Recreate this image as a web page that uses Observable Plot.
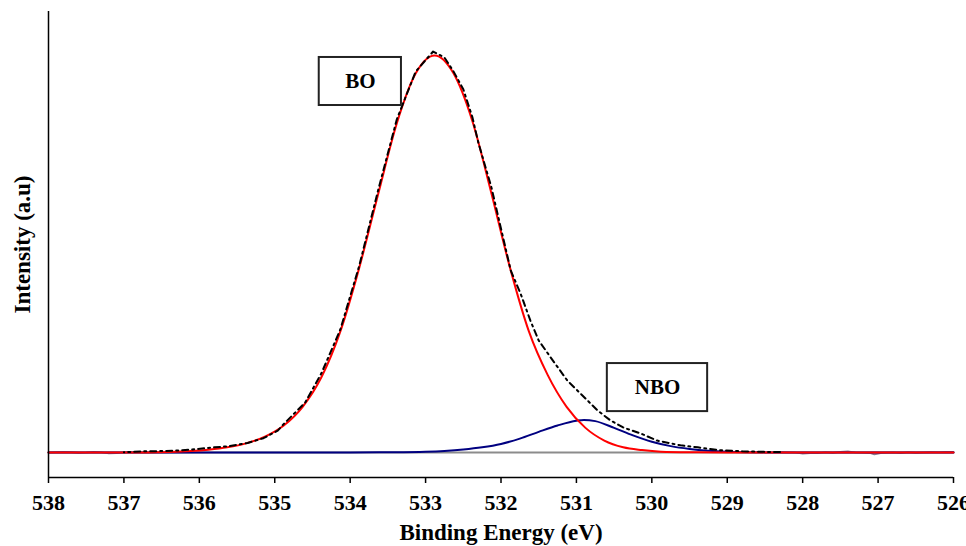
<!DOCTYPE html>
<html><head><meta charset="utf-8">
<script src="https://cdn.jsdelivr.net/npm/d3@7"></script>
<script src="https://cdn.jsdelivr.net/npm/@observablehq/plot@0.6"></script>
<style>body{margin:0;background:#fff}</style>
</head><body><div id="chart"></div>
<script>
// x tick labels (binding energy, eV)
const xTicks = [538,537,536,535,534,533,532,531,530,529,528,527,526];
const xLabel = "Binding Energy (eV)";
const yLabel = "Intensity (a.u)";

// measured spectrum (dash-dot), [eV, intensity]
const measured = [
 [537.0,0.05],[536.75,0.3],[536.5,0.35],[536.3,0.5],[536.1,0.75],[535.8,1.3],[535.6,1.6],
 [535.36,2.4],[535.15,3.6],[534.96,5.5],[534.88,7.2],[534.6,12.5],[534.38,20],[534.13,31],
 [533.88,47],[533.63,66],[533.38,84],[533.13,96],[532.9,101],[532.75,99.5],[532.63,96],
 [532.5,91.5],[532.38,84.5],[532.3,78],[532.13,67],[531.87,45.8],[531.74,40.0],[531.61,33.2],
 [531.5,28.2],[531.34,23.9],[531.12,18.1],[530.95,14.9],[530.81,12.3],[530.72,10.6],
 [530.55,8.1],[530.38,6.3],[530.15,4.8],[529.93,3.0],[529.62,1.8],[529.39,1.3],[529.1,0.6],
 [528.8,0.3],[528.5,0.15],[528.3,0.1]
];
// noisy raw ends of the spectrum
const noiseHigh = [
 [538.0,0.0],[537.9,0.1],[537.8,0.2],[537.7,0.1],[537.6,-0.1],[537.5,0.0],[537.4,0.15],
 [537.3,0.05],[537.2,-0.25],[537.1,-0.2],[537.0,0.05],[536.9,0.1]
];
const noiseLow = [
 [528.3,0.1],[528.1,0.0],[528.0,-0.3],[527.9,-0.15],[527.8,-0.2],[527.7,0.05],[527.6,-0.1],
 [527.5,0.2],[527.4,0.3],[527.3,0.0],[527.2,-0.05],[527.1,-0.2],[527.05,-0.5],[526.95,-0.1],
 [526.8,0.0],[526.7,-0.15],[526.6,0.05],[526.5,-0.1],[526.4,0.0],[526.3,0.1],[526.2,0.05],
 [526.1,0.15],[526.0,0.2]
];
// fitted BO component (red)
const boFit = [
 [538,0],[537,0],[536.38,0.15],[535.88,0.7],[535.63,1.3],[535.38,2.3],[535.13,4.0],
 [534.88,6.8],[534.63,11.5],[534.38,19],[534.13,30.5],[533.88,46.5],[533.63,65],[533.38,83],
 [533.13,95.5],[532.88,100],[532.63,95.5],[532.38,83.5],[532.13,65.5],[531.88,46.5],
 [531.63,30.5],[531.38,19.5],[531.13,11.5],[530.88,6.2],[530.63,3.0],[530.38,1.3],
 [530.13,0.6],[529.88,0.2],[529.5,0.05],[529,0],[526,0]
];
// fitted NBO component (navy)
const nboFit = [
 [538,0],[534,0],[533.5,0.05],[533.0,0.2],[532.75,0.4],[532.5,0.75],[532.25,1.3],[532.0,2.15],
 [531.75,3.5],[531.5,5.2],[531.25,6.8],[531.0,8.0],[530.9,8.2],[530.75,7.9],[530.5,6.2],
 [530.25,4.3],[530.0,2.7],[529.75,1.6],[529.5,0.9],[529.25,0.45],[529.0,0.2],[528.75,0.08],
 [528.5,0.02],[528,0],[526,0]
];
// background line
const background = [[538,0],[526,0]];

// annotation boxes
const boxText = ["BO","NBO"];
const boxLeft = [534.41, 530.59];
const boxRight = [533.32, 529.26];
const boxBottom = [87.4, 10.3];
const boxTop = [99.5, 22.4];

const yMin = -6.3, yMax = 111.08;

const rows = a => a.map(([e,i]) => ({e, i})).sort((p,q) => p.e - q.e);
const boxes = boxText.map((t,k) => ({t, x1: boxLeft[k], x2: boxRight[k], y1: boxBottom[k], y2: boxTop[k]}));

const chart = Plot.plot({
  width: 966, height: 546,
  marginLeft: 48, marginRight: 13, marginTop: 11, marginBottom: 69,
  x: {domain: [538, 526]},
  y: {domain: [yMin, yMax], axis: null},
  style: {fontFamily: "Liberation Serif, Times New Roman, serif", fontSize: "21px", fontWeight: "bold", background: "white", color: "black"},
  marks: [
    Plot.line(rows(background), {x: "e", y: "i", stroke: "#8c8c8c", strokeWidth: 2}),
    Plot.line(rows(noiseHigh), {x: "e", y: "i", stroke: "#85768a", strokeWidth: 1.6}),
    Plot.line(rows(noiseLow), {x: "e", y: "i", stroke: "#85768a", strokeWidth: 1.6}),
    Plot.line(rows(nboFit), {x: "e", y: "i", stroke: "#000080", strokeWidth: 2, curve: "monotone-x"}),
    Plot.line(rows(boFit), {x: "e", y: "i", stroke: "#ff0000", strokeWidth: 2, curve: "monotone-x"}),
    Plot.line(rows(measured), {x: "e", y: "i", stroke: "black", strokeWidth: 2, strokeDasharray: "6,4,2,4"}),
    Plot.rect(boxes, {x1: "x1", x2: "x2", y1: "y1", y2: "y2", fill: "white", stroke: "#222", strokeWidth: 2}),
    Plot.text(boxes, {x: d => (d.x1 + d.x2) / 2, y: d => (d.y1 + d.y2) / 2, text: "t", fontSize: 21, fontWeight: "bold", fill: "black"}),
    Plot.ruleY([yMin], {stroke: "black", strokeWidth: 1.5}),
    Plot.ruleX([538], {stroke: "black", strokeWidth: 1.5}),
    Plot.axisX({ticks: xTicks, tickSize: 6, tickFormat: () => "", label: null, strokeWidth: 1.5}),
    Plot.text(xTicks, {x: d => d, text: d => String(d), frameAnchor: "bottom", dy: 32, fontSize: 22, fontWeight: "bold", fill: "black"}),
    Plot.text([xLabel], {frameAnchor: "bottom", dy: 62, fontSize: 23, fontWeight: "bold", fill: "black"}),
    Plot.text([yLabel], {frameAnchor: "left", rotate: -90, dx: -26, textAnchor: "middle", fontSize: 23, fontWeight: "bold", fill: "black"})
  ]
});
document.getElementById("chart").appendChild(chart);
</script>
</body></html>
